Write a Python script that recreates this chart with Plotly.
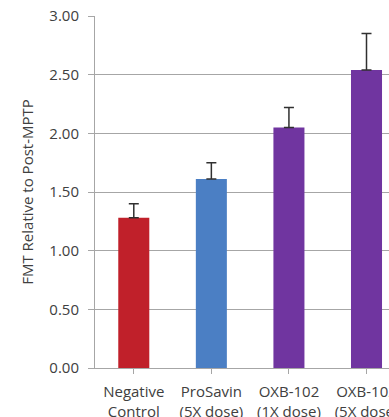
import plotly.graph_objects as go

categories = ["Negative<br>Control", "ProSavin<br>(5X dose)", "OXB-102<br>(1X dose)", "OXB-102<br>(5X dose)"]
values = [1.28, 1.61, 2.05, 2.54]
errors = [0.12, 0.14, 0.17, 0.31]
colors = ["#c0202a", "#4b7fc4", "#7035a0", "#7035a0"]
y_ticks = [0, 0.5, 1.0, 1.5, 2.0, 2.5, 3.0]
y_tick_labels = ["0.00", "0.50", "1.00", "1.50", "2.00", "2.50", "3.00"]

font = "Open Sans"
fig = go.Figure(go.Bar(
    x=list(range(len(categories))), y=values,
    marker=dict(color=colors, line=dict(width=0)),
    width=0.4,
    error_y=dict(type="data", array=errors, symmetric=False, arrayminus=[0]*4,
                 color="#303030", thickness=1.5, width=5),
))

fig.update_layout(
    width=389, height=417,
    margin=dict(l=95, r=0, t=16, b=49),
    paper_bgcolor="white", plot_bgcolor="white",
    showlegend=False,
    font=dict(family=font, size=15, color="#404040"),
    xaxis=dict(
        tickmode="array", tickvals=list(range(len(categories))), ticktext=categories,
        range=[-0.5, 3.29], automargin=False, ticklabeloverflow="allow",
        showline=True, linecolor="#a6a6a6", linewidth=1,
        ticks="outside", ticklen=5, tickcolor="#a6a6a6",
        tickson="boundaries", showgrid=False, ticklabelstandoff=5,
        tickfont=dict(size=15, color="#404040"),
    ),
    yaxis=dict(
        range=[0, 3.0], tickvals=y_ticks, ticktext=y_tick_labels,
        showline=True, linecolor="#a6a6a6", linewidth=1,
        ticks="outside", ticklen=6, tickcolor="#a6a6a6",
        showgrid=True, gridcolor="#a6a6a6", gridwidth=1,
        zeroline=False, automargin=False, ticklabelstandoff=6,
        tickfont=dict(size=15, color="#404040"),
        title=dict(text="FMT Relative to Post-MPTP", font=dict(size=15, color="#404040"), standoff=12),
    ),
)

fig.write_html("out.html", config={"displayModeBar": False},
               post_script="document.body.style.margin='0';document.body.style.overflow='hidden';")
